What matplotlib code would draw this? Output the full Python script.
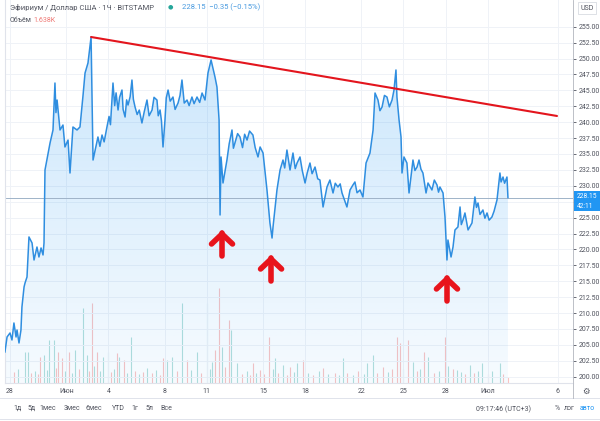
import matplotlib
matplotlib.use('Agg')
import matplotlib.pyplot as plt
import numpy as np
from matplotlib.colors import to_rgb
from matplotlib.lines import Line2D
from matplotlib.patches import Rectangle

# ETH/USD, 1h, Bitstamp. time = days since 28 May 00:00 (UTC+3)
price_day = [-0.36, -0.21, 0.00, 0.14, 0.28, 0.43, 0.50, 0.64, 0.78, 0.85,
             1.00, 1.07, 1.21, 1.35, 1.57, 1.71, 1.92, 2.06, 2.21, 2.35,
             2.42, 2.49, 2.85, 3.06, 3.20, 3.27, 3.35, 3.56, 3.77, 3.91,
             4.13, 4.27, 4.48, 4.77, 4.98, 5.20, 5.34, 5.55, 5.77, 5.91,
             6.26, 6.40, 6.55, 6.70, 6.90, 7.05, 7.15, 7.25, 7.33, 7.45,
             7.55, 7.69, 7.80, 7.97, 8.05, 8.19, 8.30, 8.40, 8.55, 8.68,
             8.78, 8.90, 9.05, 9.20, 9.39, 9.55, 9.75, 9.90, 10.11, 10.25,
             10.46, 10.55, 10.68, 10.78, 10.89, 11.03, 11.12, 11.25, 11.40, 11.60,
             11.75, 11.96, 12.10, 12.24, 12.40, 12.60, 12.75, 12.95, 13.10, 13.31,
             13.50, 13.67, 13.88, 14.09, 14.31, 14.59, 14.73, 14.88, 14.95, 15.02,
             15.16, 15.44, 15.60, 15.80, 15.90, 16.01, 16.20, 16.37, 16.55, 16.70,
             16.87, 17.05, 17.29, 17.45, 17.65, 17.80, 18.01, 18.29, 18.50, 18.65,
             18.72, 19.00, 19.22, 19.43, 19.55, 19.71, 19.93, 20.14, 20.30, 20.43,
             20.64, 20.80, 21.00, 21.15, 21.35, 21.50, 21.71, 21.90, 22.06, 22.28,
             22.56, 22.77, 22.99, 23.15, 23.34, 23.50, 23.63, 23.98, 24.20, 24.40,
             24.55, 24.70, 24.91, 25.12, 25.34, 25.62, 25.84, 25.98, 26.19, 26.33,
             26.48, 26.65, 26.83, 27.00, 27.19, 27.33, 27.47, 27.54, 27.69, 27.83,
             27.90, 28.04, 28.25, 28.40, 28.68, 28.82, 28.97, 29.11, 29.25, 29.39,
             29.61, 29.75, 30.03, 30.20, 30.39, 30.50, 30.60, 30.82, 30.96, 31.10,
             31.17, 31.39, 31.53, 31.67, 31.88, 32.03, 32.12, 32.24, 32.38, 32.60,
             32.88, 33.09, 33.20, 33.31, 33.45, 33.66, 33.80, 33.95, 34.10, 34.30,
             34.45, 34.66, 34.87, 34.95, 35.09, 35.20, 35.37, 35.44]
price_usd = [203.89, 206.24, 206.87, 205.77, 208.44, 206.24, 207.34, 205.30, 207.34, 210.96,
             214.10, 214.73, 215.67, 221.96, 221.01, 218.34, 220.38, 218.81, 220.23, 219.13,
             221.01, 232.48, 236.73, 238.77, 246.15, 241.50, 243.48, 238.77, 239.55, 236.10,
             237.19, 232.01, 239.24, 238.77, 239.24, 244.27, 247.72, 249.30, 253.38, 234.05,
             237.67, 236.20, 237.98, 236.90, 239.24, 240.90, 239.60, 243.20, 246.15, 242.60,
             244.60, 241.91, 243.90, 245.05, 242.00, 240.81, 243.50, 242.69, 244.00, 246.62,
             243.60, 242.38, 241.20, 241.90, 239.87, 241.60, 243.48, 241.00, 241.91, 243.90,
             243.48, 241.00, 241.91, 240.20, 236.10, 240.34, 243.80, 245.05, 243.30, 243.95,
             242.00, 243.01, 244.20, 246.62, 243.00, 243.48, 242.60, 243.95, 242.90, 243.95,
             243.10, 244.58, 243.48, 247.72, 249.77, 247.09, 245.52, 240.34, 225.41, 234.53,
             230.44, 234.05, 236.60, 238.77, 235.90, 236.73, 238.20, 237.67, 236.00, 238.10,
             237.19, 238.60, 237.98, 236.00, 234.53, 236.10, 235.15, 229.34, 224.16, 221.79,
             223.53, 229.34, 232.48, 234.05, 232.80, 235.62, 232.48, 235.15, 232.70, 233.58,
             234.53, 232.40, 230.44, 232.00, 233.58, 231.90, 232.95, 231.10, 230.91, 226.67,
             229.81, 230.91, 228.87, 230.40, 229.81, 230.30, 228.87, 226.67, 229.34, 230.10,
             230.60, 228.90, 229.34, 228.24, 233.58, 235.15, 238.77, 244.58, 243.48, 241.80,
             242.38, 244.20, 243.95, 242.40, 243.48, 245.05, 248.20, 243.95, 240.34, 237.67,
             232.01, 234.53, 233.58, 228.87, 234.05, 232.40, 232.95, 234.05, 232.60, 232.01,
             228.87, 230.44, 229.34, 230.90, 230.13, 229.00, 229.81, 228.87, 225.10, 218.34,
             221.48, 218.81, 220.38, 223.06, 223.53, 226.67, 223.90, 224.63, 225.73, 223.06,
             224.16, 228.24, 226.60, 227.30, 225.50, 226.20, 224.90, 225.73, 224.60, 225.10,
             226.00, 227.77, 232.01, 230.60, 231.38, 230.40, 231.38, 228.15]

# volume, thousands ETH; vol_up = candle closed higher
vol_day = [0.30, 0.60, 1.07, 1.28, 1.50, 1.80, 2.00, 2.14, 2.42, 2.60,
           2.78, 3.13, 3.30, 3.42, 3.70, 3.90, 4.20, 4.40, 4.63, 4.90,
           5.20, 5.48, 5.60, 5.84, 6.00, 6.19, 6.40, 6.62, 6.97, 7.20,
           7.40, 7.62, 7.76, 8.11, 8.30, 8.61, 8.90, 9.20, 9.50, 9.75,
           10.10, 10.40, 10.70, 10.89, 11.17, 11.53, 11.90, 12.24, 12.60, 12.90,
           13.31, 13.60, 14.02, 14.20, 14.38, 14.59, 14.87, 15.09, 15.30, 15.59,
           15.73, 16.16, 16.50, 16.90, 17.10, 17.29, 17.50, 17.79, 18.10, 18.43,
           18.70, 18.86, 19.10, 19.43, 19.70, 19.93, 20.20, 20.43, 20.85, 21.20,
           21.60, 22.00, 22.28, 22.60, 23.10, 23.40, 23.70, 24.00, 24.40, 24.80,
           25.20, 25.41, 25.84, 26.10, 26.55, 26.90, 27.20, 27.54, 27.76, 28.00,
           28.33, 28.68, 29.00, 29.20, 29.46, 29.75, 30.20, 30.50, 30.96, 31.20,
           31.50, 31.81, 32.10, 32.40, 32.74, 33.00, 33.30, 33.59, 34.00, 34.30,
           34.87, 35.10, 35.44]
vol_k = [2.8, 3.5, 7.8, 7.8, 2.5, 3.0, 2.2, 6.5, 7.0, 3.2,
         10.8, 10.8, 3.8, 7.8, 6.3, 3.0, 7.8, 2.6, 8.3, 3.4,
         18.8, 7.0, 3.1, 20.0, 4.2, 7.8, 3.0, 6.5, 7.8, 2.7,
         3.6, 7.5, 6.5, 5.8, 2.4, 11.5, 3.0, 2.2, 2.8, 3.8,
         2.5, 3.2, 2.1, 6.3, 5.8, 6.5, 2.9, 20.0, 5.8, 3.3,
         7.8, 2.6, 20.0, 3.5, 5.3, 8.3, 23.8, 9.0, 4.0, 15.8,
         13.3, 5.0, 2.3, 3.1, 2.0, 5.0, 2.6, 3.3, 2.2, 11.5,
         3.4, 6.3, 2.5, 4.5, 2.1, 4.0, 2.8, 5.0, 5.8, 2.4,
         2.0, 3.0, 3.8, 2.2, 2.6, 1.9, 6.3, 2.4, 2.0, 3.1,
         2.3, 5.0, 7.0, 2.5, 4.0, 2.7, 3.4, 11.5, 10.0, 3.5,
         10.8, 5.3, 2.9, 3.6, 7.8, 6.5, 2.4, 3.0, 11.5, 4.2,
         3.6, 3.3, 2.8, 2.2, 4.5, 2.6, 3.1, 5.0, 2.3, 2.9,
         5.0, 2.2, 1.6]
vol_up = [0, 1, 1, 1, 0, 1, 0, 0, 1, 1,
          1, 1, 0, 0, 0, 1, 0, 1, 1, 0,
          1, 1, 0, 0, 1, 0, 1, 1, 1, 0,
          1, 0, 1, 0, 1, 1, 0, 1, 0, 1,
          0, 1, 0, 0, 1, 1, 0, 1, 0, 1,
          1, 0, 1, 1, 1, 0, 0, 1, 0, 0,
          1, 1, 0, 1, 0, 0, 1, 0, 0, 0,
          1, 1, 0, 1, 0, 0, 1, 1, 0, 1,
          0, 1, 0, 1, 0, 1, 1, 0, 1, 0,
          1, 1, 1, 0, 0, 1, 0, 0, 0, 1,
          0, 1, 0, 1, 0, 1, 0, 1, 0, 1,
          0, 1, 1, 0, 1, 0, 1, 1, 0, 1,
          1, 0, 0]

tick_day = [0, 4, 7, 11, 14, 18, 21, 25, 28, 31, 34, 39]
tick_lab = ['28', 'Июн', '4', '8', '11', '15', '18', '22', '25', '28', 'Июл', '6']

trend_day = [5.77, 38.93]
trend_usd = [253.38, 240.97]

arrow_day = [15.09, 18.58, 31.10]
arrow_usd = [222.74, 218.81, 215.67]

last_price = 228.15

plt.rcParams['font.family'] = ['Roboto', 'DejaVu Sans']

W, H = 600, 421
fig = plt.figure(figsize=(6, 4.21), dpi=100)
fig.patch.set_facecolor('white')
ax = fig.add_axes([5 / W, 38 / H, 568 / W, 383 / H])
ax2 = ax.twinx()

xmin, xmax = -0.356, 40.07
ymin, ymax = 199.01, 259.195

# volume (behind the price)
vcol = ['#26a69a' if u else '#ef5350' for u in vol_up]
ax2.vlines(vol_day, 0, vol_k, colors=vcol, alpha=0.35, lw=0.8)
ax2.set_ylim(0, 96)
ax2.set_yticks([])
for s in ax2.spines.values():
    s.set_visible(False)
ax.set_zorder(ax2.get_zorder() + 1)
ax.patch.set_visible(False)
ax2.patch.set_facecolor('white')

# area under price with gradient
poly = ax.fill_between(price_day, price_usd, ymin, color='none', lw=0)
grad = np.zeros((256, 1, 4))
grad[..., :3] = to_rgb('#2196f3')
grad[..., 3] = np.linspace(0.24, 0.04, 256)[:, None]
img = ax.imshow(grad, extent=[xmin, xmax, ymin, max(price_usd)], aspect='auto',
                origin='upper', zorder=1)
img.set_clip_path(poly.get_paths()[0], transform=ax.transData)

ax.plot(price_day, price_usd, color='#2f8ee0', lw=1.1, zorder=3)
ax.axhline(last_price, color='#9fb3c8', lw=0.7, zorder=2)
ax.plot(trend_day, trend_usd, color='#e3151d', lw=1.5, zorder=4,
        solid_capstyle='round')

ax.set_xlim(xmin, xmax)
ax.set_ylim(ymin, ymax)

# red arrows (sizes in pixels)
dpx = (xmax - xmin) / 568
upx = (ymax - ymin) / 383
for d, p in zip(arrow_day, arrow_usd):
    kw = dict(color='#e8141c', lw=4, zorder=5, solid_capstyle='round',
              solid_joinstyle='miter')
    ax.plot([d, d], [p - 0.6 * upx, p - 24 * upx], **kw)
    ax.plot([d - 10.5 * dpx, d, d + 10.5 * dpx],
            [p - 12 * upx, p - 2 * upx, p - 12 * upx], **kw)

yt = np.arange(200, 255.1, 2.5)
ax.set_yticks(yt)
# 227.50 sits under the last-price label
ax.set_yticklabels(['' if v == 227.5 else '%.2f' % v for v in yt])
ax.yaxis.tick_right()
ax.set_xticks(tick_day)
ax.set_xticklabels(tick_lab)
ax.tick_params(axis='y', length=2.5, width=0.6, pad=1.5, labelsize=5,
               colors='#50535e')
ax.tick_params(axis='x', length=0, pad=3.5, labelsize=5, colors='#50535e')
ax.grid(color='#eff2f7', lw=0.7)
ax.set_axisbelow(True)
ax.spines['top'].set_visible(False)
ax.spines['left'].set_color('#e0e3eb')
ax.spines['bottom'].set_color('#e0e3eb')
ax.spines['right'].set_color('#b2b5be')
ax.spines['right'].set_linewidth(0.6)

# legend line
fs = 5.5
fig.text(10 / W, 1 - 7 / H, 'Эфириум / Доллар США · 1Ч · BITSTAMP', fontsize=fs,
         color='#50535e', va='center')
fig.text(170 / W, 1 - 7 / H, '●', fontsize=4.5, color='#26a69a', va='center',
         ha='center', family=['DejaVu Sans'])
fig.text(182 / W, 1 - 7 / H, '228.15  −0.35 (−0.15%)', fontsize=fs,
         color='#4a9be0', va='center')
fig.text(10 / W, 1 - 20 / H, 'Объём', fontsize=5, color='#50535e', va='center')
fig.text(33 / W, 1 - 20 / H, '1.638K', fontsize=5, color='#ef7a76', va='center')

fig.text(587 / W, 1 - 8 / H, 'USD', fontsize=5, color='#50535e', va='center',
         ha='center', bbox=dict(boxstyle='square,pad=0.3', fc='white',
                                ec='#d1d4dc', lw=0.5))

# last price label block (price + countdown)
fig.add_artist(Rectangle((574 / W, 1 - 211 / H), 26 / W, 20 / H,
                         transform=fig.transFigure, fc='#2196f3', ec='none',
                         zorder=9))
fig.text(577 / W, 1 - 196 / H, '228.15', fontsize=4.8, color='white', va='center',
         ha='left', zorder=10)
fig.text(577 / W, 1 - 206 / H, '42:11', fontsize=4.8, color='white', va='center',
         ha='left', zorder=10)

fig.text(586 / W, 1 - 391 / H, '⚙', fontsize=6, color='#50535e', va='center',
         ha='center', family=['DejaVu Sans'])

# frame lines of the toolbar
for yy in [398, 419]:
    fig.add_artist(Line2D([0, 1], [1 - yy / H, 1 - yy / H], color='#e0e3eb', lw=0.7))
fig.add_artist(Line2D([573 / W, 573 / W], [1 - 398 / H, 1 - 383 / H],
                      color='#b2b5be', lw=0.6))

btns = ['1д', '5д', '1мес', '3мес', '6мес', 'YTD', '1г', '5л', 'Все']
btn_x = [18, 32, 48, 72, 94, 118, 135, 149, 166]
for b, xx in zip(btns, btn_x):
    fig.text(xx / W, 1 - 408 / H, b, fontsize=5, color='#50535e', va='center',
             ha='center')
fig.text(503 / W, 1 - 409 / H, '09:17:46 (UTC+3)', fontsize=5, color='#50535e',
         va='center', ha='center')
fig.text(557 / W, 1 - 409 / H, '%', fontsize=5, color='#50535e', va='center',
         ha='center')
fig.text(569 / W, 1 - 409 / H, 'лог', fontsize=5, color='#50535e', va='center',
         ha='center')
fig.text(587 / W, 1 - 409 / H, 'авто', fontsize=5, color='#2196f3', va='center',
         ha='center')

fig.savefig('out.png', dpi=100)
